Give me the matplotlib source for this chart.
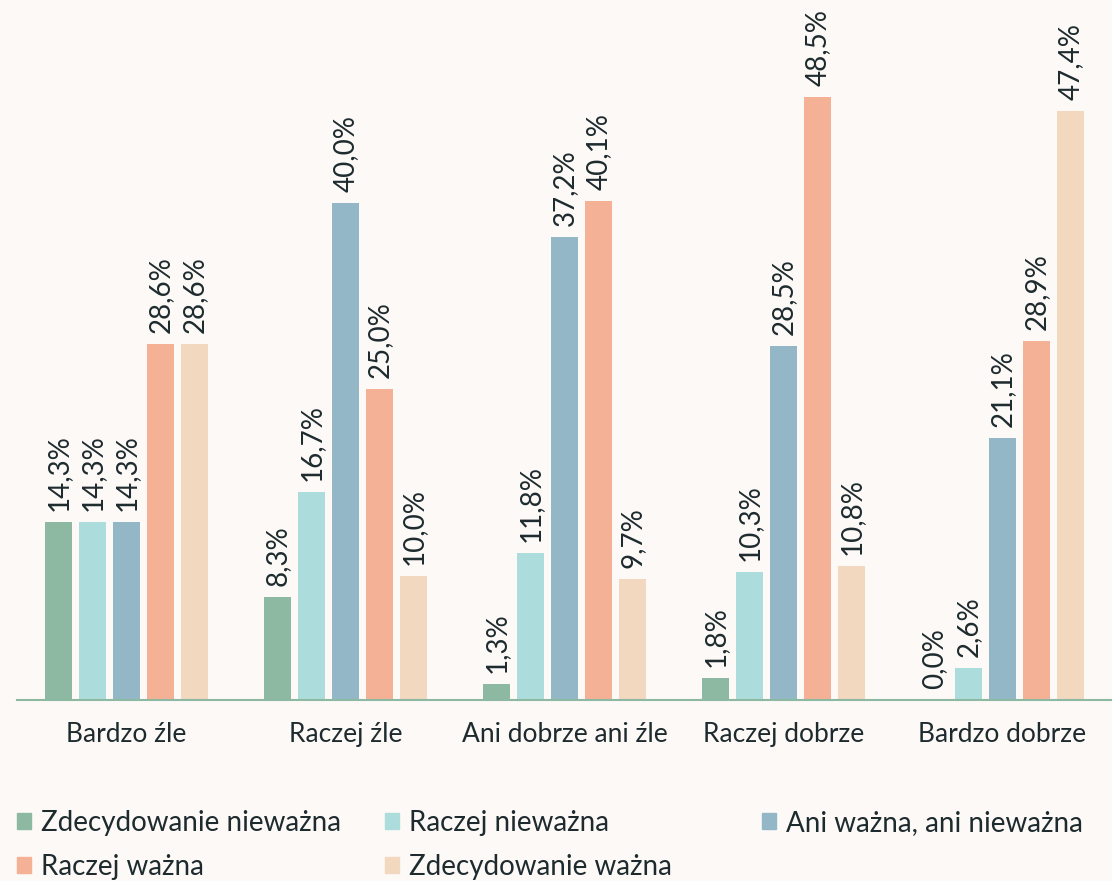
import numpy as np
import matplotlib.pyplot as plt
from matplotlib.patches import Patch

categories = ['Bardzo źle', 'Raczej źle', 'Ani dobrze ani źle', 'Raczej dobrze', 'Bardzo dobrze']
series = ['Zdecydowanie nieważna', 'Raczej nieważna', 'Ani ważna, ani nieważna',
          'Raczej ważna', 'Zdecydowanie ważna']
zdec_niewazna = [14.3, 8.3, 1.3, 1.8, 0.0]
raczej_niewazna = [14.3, 16.7, 11.8, 10.3, 2.6]
ani = [14.3, 40.0, 37.2, 28.5, 21.1]
raczej_wazna = [28.6, 25.0, 40.1, 48.5, 28.9]
zdec_wazna = [28.6, 10.0, 9.7, 10.8, 47.4]
values = [zdec_niewazna, raczej_niewazna, ani, raczej_wazna, zdec_wazna]

colors = ['#8db8a1', '#addcdc', '#93b7c7', '#f4b196', '#f3d8c0']
bg = '#fdf9f6'
txt = '#1d2b2f'

plt.rcParams['font.family'] = ['Lato', 'DejaVu Sans']

fig = plt.figure(figsize=(11.12, 8.81), dpi=100, facecolor=bg)
ax = fig.add_axes([17/1112, 1-700/881, 1-17/1112, 700/881])
ax.set_facecolor(bg)

x = np.arange(len(categories))
width = 0.123
pitch = 0.155
for i, vals in enumerate(values):
    pos = x + (i-2)*pitch
    bars = ax.bar(pos, vals, width, color=colors[i], label=series[i])
    for xp, v in zip(pos, vals):
        ax.annotate(f'{v:.1f}%'.replace('.', ','), (xp, v), xytext=(0, 8),
                    textcoords='offset points', rotation=90, ha='center',
                    va='bottom', fontsize=20, color=txt)

ax.set_xlim(-0.5, 4.5)
ax.set_ylim(0, 56.3)
ax.set_yticks([])
ax.set_xticks(x)
ax.set_xticklabels(categories, fontsize=19, color=txt)
ax.tick_params(axis='x', length=0, pad=16)
for s in ['top', 'right', 'left']:
    ax.spines[s].set_visible(False)
ax.spines['bottom'].set_color('#8db8a1')
ax.spines['bottom'].set_linewidth(1.5)

# legend: three columns at fixed positions
cols = [[0, 3], [1, 4], [2]]
xs = [17, 385, 762]
for c, xp in zip(cols, xs):
    handles = [Patch(color=colors[k], label=series[k]) for k in c]
    leg = fig.legend(handles=handles, loc='upper left',
                     bbox_to_anchor=(xp/1112, 1-810/881), frameon=False,
                     handlelength=0.5, handleheight=0.5,
                     handletextpad=0.35, labelspacing=0.65, borderaxespad=0,
                     borderpad=0, prop={'size': 20})
    for t in leg.get_texts():
        t.set_color(txt)

fig.savefig('out.png', dpi=100, facecolor=bg)
